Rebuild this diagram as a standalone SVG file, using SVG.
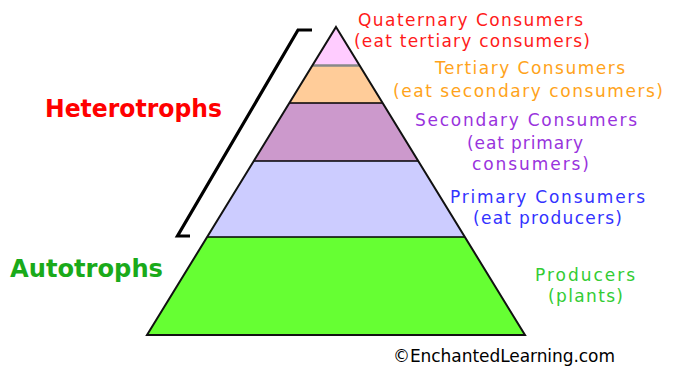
<svg xmlns="http://www.w3.org/2000/svg" width="674" height="369" viewBox="0 0 674 369">
<style>
.layer{stroke:none}
.sep{stroke:#000;stroke-width:1.6;fill:none}
.outline{fill:none;stroke:#111;stroke-width:2;stroke-linejoin:miter}
.lbl{font-family:"DejaVu Sans","Verdana",sans-serif;font-size:17px}
.big{font-family:"DejaVu Sans",sans-serif;font-size:25px;font-weight:bold}
.bracket{fill:none;stroke:#000;stroke-width:3.2;stroke-linejoin:miter}
</style>
<rect width="674" height="369" fill="#fff"/>
<g id="producers">
<polygon class="layer" fill="#66ff33" points="207.1,237 464.9,237 525,335 147,335"/>
<text class="lbl" fill="#33cc33" x="535" y="281" textLength="100" lengthAdjust="spacing">Producers</text>
<text class="lbl" fill="#33cc33" x="548" y="302" textLength="75" lengthAdjust="spacing">(plants)</text>
</g>
<g id="primary">
<polygon class="layer" fill="#ccccff" points="253.8,161 418.2,161 464.9,237 207.1,237"/>
<text class="lbl" fill="#3333ff" x="450" y="203" textLength="195" lengthAdjust="spacing">Primary Consumers</text>
<text class="lbl" fill="#3333ff" x="473" y="224" textLength="149" lengthAdjust="spacing">(eat producers)</text>
</g>
<g id="secondary">
<polygon class="layer" fill="#cc99cc" points="289.4,103 382.6,103 418.2,161 253.8,161"/>
<text class="lbl" fill="#9933dd" x="415" y="126" textLength="222" lengthAdjust="spacing">Secondary Consumers</text>
<text class="lbl" fill="#9933dd" x="467" y="149" textLength="116" lengthAdjust="spacing">(eat primary</text>
<text class="lbl" fill="#9933dd" x="472" y="170" textLength="117" lengthAdjust="spacing">consumers)</text>
</g>
<g id="tertiary">
<polygon class="layer" fill="#ffcc99" points="312.7,65 359.3,65 382.6,103 289.4,103"/>
<text class="lbl" fill="#ffa31a" x="435" y="74" textLength="190" lengthAdjust="spacing">Tertiary Consumers</text>
<text class="lbl" fill="#ffa31a" x="393" y="97" textLength="270" lengthAdjust="spacing">(eat secondary consumers)</text>
</g>
<g id="quaternary">
<polygon class="layer" fill="#ffccff" points="336,27 359.3,65 312.7,65"/>
<text class="lbl" fill="#ff1a1a" x="358" y="26" textLength="225" lengthAdjust="spacing">Quaternary Consumers</text>
<text class="lbl" fill="#ff1a1a" x="354" y="47" textLength="236" lengthAdjust="spacing">(eat tertiary consumers)</text>
</g>
<g id="separators">
<line x1="312.7" y1="65.5" x2="359.3" y2="65.5" stroke="#888" stroke-width="2.5"/>
<line class="sep" x1="289.4" y1="103" x2="382.6" y2="103"/>
<line class="sep" x1="253.8" y1="161" x2="418.2" y2="161"/>
<line class="sep" x1="207.1" y1="237" x2="464.9" y2="237" stroke="#114411"/>
<polygon class="outline" points="336,27 525,335 147,335"/>
</g>
<g id="heterotrophs">
<text class="big" fill="#ff0000" x="45" y="117" textLength="177" lengthAdjust="spacingAndGlyphs">Heterotrophs</text>
</g>
<g id="autotrophs">
<text class="big" fill="#1aaa1a" x="10" y="277" textLength="153" lengthAdjust="spacingAndGlyphs">Autotrophs</text>
</g>
<g id="connectors">
<polyline class="bracket" points="312,30 298,30 177.5,236 190,236"/>
</g>
<g id="copyright">
<text class="lbl" fill="#000" x="393" y="362" textLength="222" lengthAdjust="spacing">©EnchantedLearning.com</text>
</g>
</svg>
